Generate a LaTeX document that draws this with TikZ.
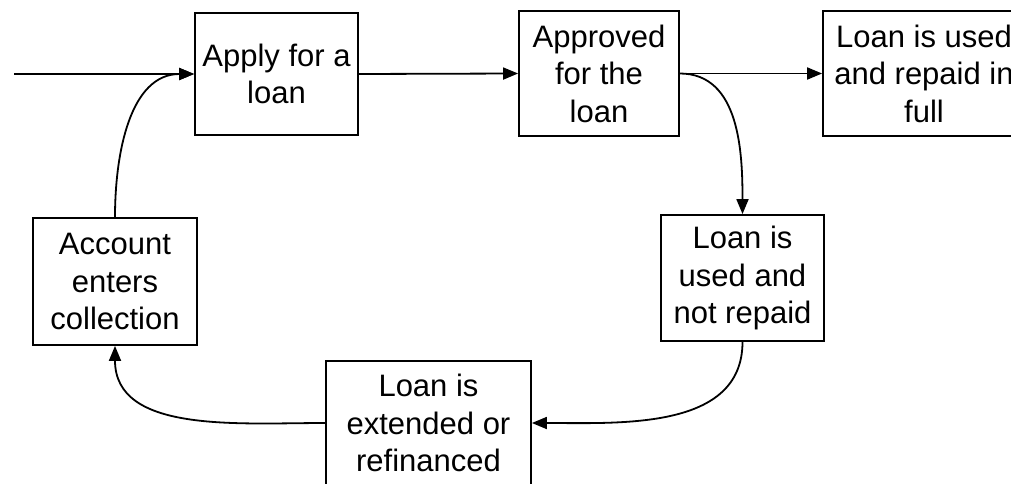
\documentclass[tikz,border=0pt]{standalone}
\usepackage{fontspec}
\setmainfont{Liberation Sans}
\usetikzlibrary{arrows.meta}
\begin{document}
\begin{tikzpicture}[x=1pt,y=-1pt,
  box/.style={draw, line width=1.8pt, align=center, inner sep=0pt, font=\fontsize{31}{37.5}\selectfont},
  conn/.style={line width=1.8pt, -{Triangle[length=15pt,width=12pt]}}]
\useasboundingbox (0,0) rectangle (1011,484);
\clip (0,0) rectangle (1011,484);
\node[box, minimum width=163pt, minimum height=122pt] (apply) at (276.5,74) {Apply for a\\loan};
\node[box, minimum width=160pt, minimum height=125pt] (approved) at (599,73.5) {Approved\\for the\\loan};
\node[box, minimum width=202pt, minimum height=125pt] (repaid) at (924,73.5) {Loan is used\\and repaid in\\full};
\node[box, minimum width=163pt, minimum height=126pt] (notrepaid) at (742.5,278) {Loan is\\used and\\not repaid};
\node[box, minimum width=205pt, minimum height=124pt] (extended) at (428.5,423) {Loan is\\extended or\\refinanced};
\node[box, minimum width=164pt, minimum height=127pt] (collection) at (115,281.5) {Account\\enters\\collection};
\coordinate (start) at (14,74);
\draw[conn] (start) -- (apply.west);
\draw[conn] (apply.east) -- (approved.west);
\draw[conn] (approved.east) -- (repaid.west);
\draw[conn] (approved.east) to[out=0,in=90] (notrepaid.north);
\draw[conn] (notrepaid.south) to[out=-90,in=0] (extended.east);
\draw[conn] (extended.west) to[out=180,in=-90] (collection.south);
\draw[conn] (collection.north) to[out=90,in=180] (apply.west);
\end{tikzpicture}
\end{document}
